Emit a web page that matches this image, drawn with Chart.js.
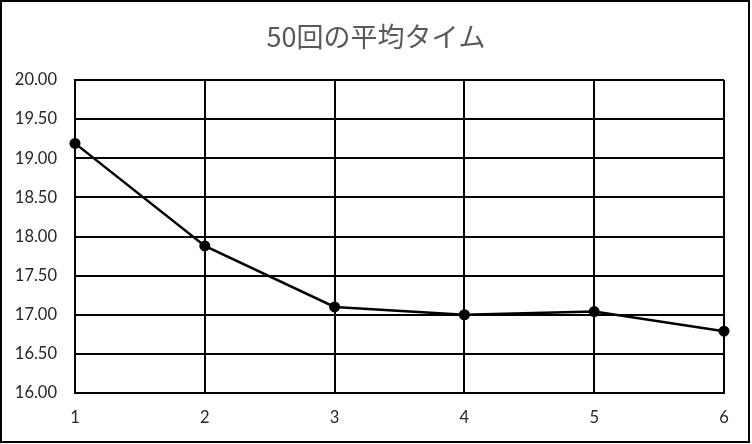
<!DOCTYPE html>
<html>
<head>
<meta charset="utf-8">
<script src="https://cdn.jsdelivr.net/npm/chart.js@4/dist/chart.umd.min.js"></script>
<style>
  html, body { margin: 0; padding: 0; background: #fff; }
  canvas { display: block; }
</style>
</head>
<body>
<canvas id="chart" width="752" height="444"></canvas>
<script>
// Data
const chartTitle = '50回の平均タイム';
const rounds = ['1', '2', '3', '4', '5', '6'];
const avgTimes = [19.19, 17.88, 17.10, 17.00, 17.04, 16.79];
const yMin = 16;
const yMax = 20;
const yStep = 0.5;

// white background + outer frame
const framePlugin = {
    id: 'frame',
    beforeDraw: function(chart) {
        const ctx = chart.ctx;
        ctx.save();
        ctx.fillStyle = '#ffffff';
        ctx.fillRect(0, 0, chart.width, chart.height);
        ctx.restore();
    },
    afterDraw: function(chart) {
        const ctx = chart.ctx;
        ctx.save();
        ctx.strokeStyle = '#000000';
        ctx.lineWidth = 2;
        ctx.strokeRect(1, 1, 748, 441);
        ctx.restore();
    }
};

const tickFont = { family: 'Lato, "Open Sans", sans-serif', size: 16.5 };

new Chart(document.getElementById('chart'), {
    type: 'line',
    data: {
        labels: rounds,
        datasets: [{
            data: avgTimes,
            borderColor: '#000000',
            borderWidth: 2.5,
            backgroundColor: '#000000',
            pointBackgroundColor: '#000000',
            pointBorderColor: '#000000',
            pointRadius: 5.5,
            pointBorderWidth: 0,
            tension: 0,
            fill: false,
            clip: false
        }]
    },
    options: {
        responsive: false,
        animation: false,
        layout: {
            padding: 0
        },
        plugins: {
            legend: { display: false },
            tooltip: { enabled: false },
            title: {
                display: true,
                text: chartTitle,
                color: '#595959',
                font: { family: '"Noto Sans CJK JP", sans-serif', size: 27, weight: 'normal', lineHeight: 1.2 },
                padding: { top: 21, bottom: 26.6 }
            }
        },
        scales: {
            x: {
                offset: false,
                grid: { color: '#000000', lineWidth: 2, drawTicks: false },
                border: { color: '#000000', width: 2 },
                ticks: { color: '#262626', font: tickFont, padding: 15, maxRotation: 0 },
                afterFit: function(scale) { scale.height = 51; }
            },
            y: {
                min: yMin,
                max: yMax,
                grid: { color: '#000000', lineWidth: 2, drawTicks: false },
                border: { color: '#000000', width: 2 },
                ticks: {
                    stepSize: yStep,
                    color: '#262626',
                    font: tickFont,
                    padding: 18,
                    callback: function(value) { return value.toFixed(2); }
                },
                afterFit: function(scale) { scale.width = 75; }
            },
            // empty right-hand axis: just reserves the blank strip on the right
            yRight: {
                position: 'right',
                grid: { display: false, drawOnChartArea: false },
                border: { display: false },
                ticks: { display: false },
                afterFit: function(scale) { scale.width = 28; }
            }
        }
    },
    plugins: [framePlugin]
});
</script>
</body>
</html>
